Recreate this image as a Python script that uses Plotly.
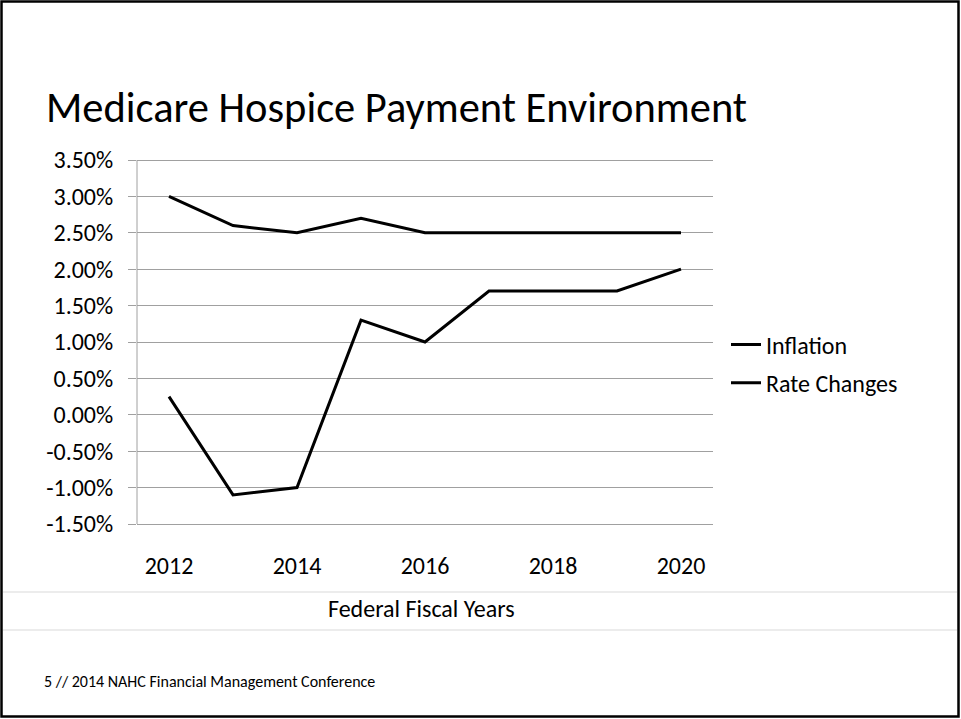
import plotly.graph_objects as go

years = [2012, 2013, 2014, 2015, 2016, 2017, 2018, 2019, 2020]
inflation = [3.0, 2.6, 2.5, 2.7, 2.5, 2.5, 2.5, 2.5, 2.5]
rate_changes = [0.25, -1.1, -1.0, 1.3, 1.0, 1.7, 1.7, 1.7, 2.0]
series_names = ["Inflation", "Rate Changes"]
y_ticks = [-1.5, -1.0, -0.5, 0.0, 0.5, 1.0, 1.5, 2.0, 2.5, 3.0, 3.5]
x_ticks = [2012, 2014, 2016, 2018, 2020]

W, H = 961, 719
PADPX = 2
L, R, T, B = 137, 713, 160 - PADPX, 524 + PADPX
UNIT = 364 / 5.0  # px per percentage point
FONT = "Carlito, Calibri, Liberation Sans, Arial, sans-serif"


def px(x):
    return (x - L) / (R - L)


def py(y):
    return (B - y) / (B - T)


fig = go.Figure()
for name, vals in zip(series_names, [inflation, rate_changes]):
    fig.add_trace(go.Scatter(
        x=years, y=vals, mode="lines", name=name, legendgroup=name,
        line=dict(color="black", width=3),
    ))

shapes = [
    dict(type="rect", xref="paper", yref="paper",
         x0=px(1.5), x1=px(958.5), y0=py(716.5), y1=py(1.5),
         line=dict(color="black", width=2.5), layer="above"),
    dict(type="line", xref="paper", yref="paper",
         x0=px(3), x1=px(957), y0=py(592), y1=py(592),
         line=dict(color="#d9d9d9", width=1)),
    dict(type="line", xref="paper", yref="paper",
         x0=px(3), x1=px(957), y0=py(630), y1=py(630),
         line=dict(color="#d9d9d9", width=1)),
]

annotations = [
    dict(text="Medicare Hospice Payment Environment", xref="paper", yref="paper",
         x=px(44), y=py(107), xanchor="left", yanchor="middle", showarrow=False,
         font=dict(family=FONT, size=42.5, color="black")),
    dict(text="Federal Fiscal Years", xref="paper", yref="paper",
         x=px(421), y=py(608), xanchor="center", yanchor="middle", showarrow=False,
         font=dict(family=FONT, size=24, color="black")),
    dict(text="5 // 2014 NAHC Financial Management Conference", xref="paper", yref="paper",
         x=px(42), y=py(681), xanchor="left", yanchor="middle", showarrow=False,
         font=dict(family=FONT, size=16, color="black")),
]

pad_val = PADPX / UNIT
fig.update_layout(
    width=W, height=H,
    margin=dict(l=L, r=W - R, t=T, b=H - B, pad=0),
    paper_bgcolor="white", plot_bgcolor="white",
    font=dict(family=FONT, size=24, color="black"),
    showlegend=True,
    legend=dict(x=px(726), y=py(364), xanchor="left", yanchor="middle",
                font=dict(family=FONT, size=24, color="black"),
                tracegroupgap=4, traceorder="grouped", itemwidth=30,
                bgcolor="rgba(0,0,0,0)"),
    shapes=shapes,
    annotations=annotations,
    xaxis=dict(range=[2011.5, 2020.5], tickvals=x_ticks, ticktext=[str(v) for v in x_ticks],
               showgrid=False, zeroline=False, showline=False, ticks="",
               ticklabelstandoff=21 + PADPX, tickfont=dict(size=24)),
    yaxis=dict(range=[-1.5 - pad_val, 3.5 + pad_val], tickvals=y_ticks,
               ticktext=[f"{v:.2f}%" for v in y_ticks],
               showgrid=True, gridcolor="#a0a0a0", gridwidth=1, zeroline=False,
               showline=False,
               ticks="outside", ticklen=8, tickcolor="#a0a0a0",
               ticklabelstandoff=10, tickfont=dict(size=24)),
)
# y-axis line drawn between the outermost ticks, as in the reference
fig.add_shape(type="line", xref="paper", yref="y", x0=0, x1=0,
              y0=y_ticks[0], y1=y_ticks[-1], line=dict(color="#a0a0a0", width=1))

fig.write_html("out.html")
